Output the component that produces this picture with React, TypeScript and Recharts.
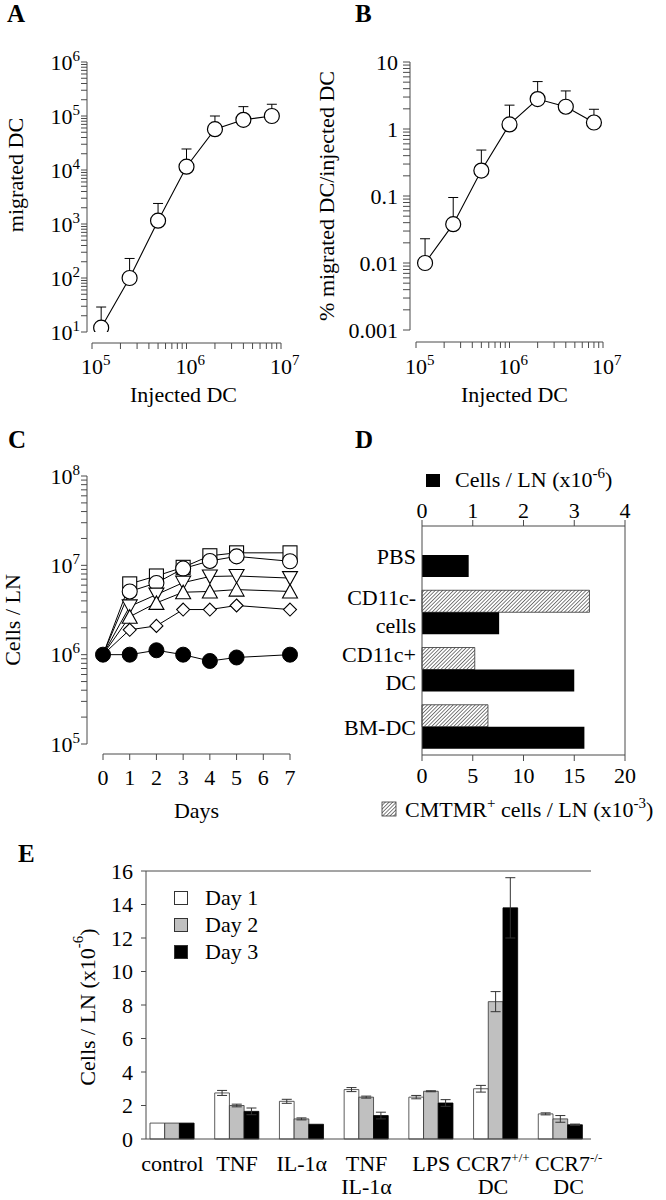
import React from "react";
import {
  LineChart,
  Line,
  BarChart,
  Bar,
  XAxis,
  YAxis,
  ErrorBar,
  Legend,
  ReferenceLine,
} from "recharts";

const FONT = '"Liberation Serif", "Times New Roman", Times, serif';
const AXIS = "#4a4a4a";
const FS = 22;
const SUP = 15;

// ---------- Panel A / B ----------
const injectedDC = [1.25e5, 2.5e5, 5e5, 1e6, 2e6, 4e6, 8e6];
const migratedDC = [12, 100, 1150, 11500, 57000, 85000, 100000];
const migratedDCErr = [17, 130, 1250, 13000, 43000, 64000, 65000];
const percentMigrated = [0.01, 0.038, 0.24, 1.17, 2.8, 2.15, 1.25];
const percentMigratedErr = [0.013, 0.057, 0.245, 1.1, 2.3, 1.55, 0.72];

const injectedDecades = [1e5, 1e6, 1e7];
const migratedDecades = [1e1, 1e2, 1e3, 1e4, 1e5, 1e6];
const percentDecades = [0.001, 0.01, 0.1, 1, 10];

// ---------- Panel C ----------
const days = [0, 1, 2, 3, 4, 5, 7];
const dayTicks = [0, 1, 2, 3, 4, 5, 6, 7];
const cellsDecades = [1e5, 1e6, 1e7, 1e8];
const cSquare = [1e6, 6.2e6, 7.6e6, 9.5e6, 1.28e7, 1.38e7, 1.38e7];
const cCircle = [1e6, 5.1e6, 6.35e6, 9.2e6, 1.12e7, 1.26e7, 1.11e7];
const cDown = [1e6, 3.47e6, 4.7e6, 6.4e6, 7.5e6, 7.6e6, 7.2e6];
const cUp = [1e6, 2.66e6, 3.8e6, 5.0e6, 5.1e6, 5.35e6, 5.1e6];
const cDiamond = [1e6, 1.9e6, 2.1e6, 3.2e6, 3.2e6, 3.55e6, 3.2e6];
const cFilled = [1e6, 1e6, 1.12e6, 1e6, 0.85e6, 0.93e6, 1e6];

// ---------- Panel D ----------
const dCategories = ["PBS", "CD11c- cells", "CD11c+ DC", "BM-DC"];
const dLabelLines = [["PBS"], ["CD11c-", "cells"], ["CD11c+", "DC"], ["BM-DC"]];
const dCells = [0.92, 1.52, 3.0, 3.2]; // x10^-6
const dCmtmr = [null, 16.5, 5.2, 6.5]; // x10^-3
const dCellsTicks = [0, 1, 2, 3, 4];
const dCmtmrTicks = [0, 5, 10, 15, 20];

// ---------- Panel E ----------
const eCategories = ["control", "TNF", "IL-1α", "TNF IL-1α", "LPS", "CCR7+/+ DC", "CCR7-/- DC"];
const eLabelLines = [["control"], ["TNF"], ["IL-1α"], ["TNF", "IL-1α"], ["LPS"], ["CCR7^+/+", "DC"], ["CCR7^-/-", "DC"]];
const eLabelShift = [0, 0, 0, 0, 0, -3, 8];
const eDay1 = [0.95, 2.75, 2.25, 2.95, 2.5, 3.0, 1.5];
const eDay1Err = [0, 0.15, 0.12, 0.12, 0.1, 0.2, 0.06];
const eDay2 = [0.95, 2.0, 1.2, 2.5, 2.85, 8.2, 1.2];
const eDay2Err = [0, 0.08, 0.06, 0.06, 0.03, 0.6, 0.2];
const eDay3 = [0.95, 1.65, 0.88, 1.4, 2.15, 13.8, 0.85];
const eDay3Err = [0, 0.2, 0, 0.2, 0.2, 1.8, 0.04];
const eTicks = [0, 2, 4, 6, 8, 10, 12, 14, 16];

// ---------- helpers ----------
function withMinor(decades: number[]) {
  const out: number[] = [];
  for (let i = 0; i < decades.length; i++) {
    out.push(decades[i]);
    if (i < decades.length - 1) for (let m = 2; m <= 9; m++) out.push(decades[i] * m);
  }
  return out;
}
function isDecade(v: number) {
  const l = Math.log10(v);
  return Math.abs(l - Math.round(l)) < 1e-6;
}

const aData = injectedDC.map((x, i) => ({ x, y: migratedDC[i], err: [0, migratedDCErr[i]] }));
const bData = injectedDC.map((x, i) => ({ x, y: percentMigrated[i], err: [0, percentMigratedErr[i]] }));
const cData = days.map((d, i) => ({
  day: d,
  sq: cSquare[i],
  ci: cCircle[i],
  dn: cDown[i],
  up: cUp[i],
  di: cDiamond[i],
  fi: cFilled[i],
}));
const dData = dCategories.map((c, i) => ({ cat: c, cells: dCells[i], cmtmr: dCmtmr[i] }));
const eData = eCategories.map((c, i) => ({
  cat: c,
  d1: eDay1[i],
  e1: eDay1Err[i],
  d2: eDay2[i],
  e2: eDay2Err[i],
  d3: eDay3[i],
  e3: eDay3Err[i],
}));

const txt = { fontFamily: FONT, fontSize: FS, fill: "#000" };

function renderSup(s: string, supSize = SUP) {
  const parts = s.split("^");
  if (parts.length === 1) return s;
  return [
    parts[0],
    <tspan key="s" dy={-9} fontSize={supSize}>
      {parts[1]}
    </tspan>,
  ];
}

const LogYTick = (props: any) => {
  const { x, y, payload, plain } = props;
  const v = payload && payload.value;
  if (v == null || !isDecade(v)) return <g />;
  if (plain)
    return (
      <text x={x} y={y} dy={7.5} textAnchor="end" {...txt}>
        {String(v)}
      </text>
    );
  const e = Math.round(Math.log10(v));
  return (
    <text x={x} y={y} dy={7.5} textAnchor="end" {...txt}>
      10
      <tspan dy={-9} fontSize={SUP}>
        {e}
      </tspan>
    </text>
  );
};

const LogXTick = (props: any) => {
  const { x, y, payload, k } = props;
  const v = payload && payload.value;
  if (v == null || !isDecade(v)) return <g />;
  const e = Math.round(Math.log10(v));
  return (
    <g>
      <text x={x} y={y + k} textAnchor="middle" {...txt}>
        10
      </text>
      <text x={x + 11} y={y + k - 9} textAnchor="start" fontFamily={FONT} fontSize={SUP} fill="#000">
        {e}
      </text>
    </g>
  );
};

const xTitle = (content: any, offset: number, dx = 0) => (p: any) => {
  const vb = p.viewBox || { x: 0, y: 0, width: 0, height: 0 };
  return (
    <text x={vb.x + vb.width / 2 + dx} y={vb.y + offset} textAnchor="middle" {...txt}>
      {content}
    </text>
  );
};

const yTitle = (content: any, dx: number, dy: number) => (p: any) => {
  const vb = p.viewBox || { x: 0, y: 0, width: 0, height: 0 };
  const cx = vb.x + dx;
  const cy = vb.y + vb.height / 2 + dy;
  return (
    <text
      x={cx}
      y={cy}
      transform={`rotate(-90 ${cx} ${cy})`}
      textAnchor="middle"
      dominantBaseline="central"
      {...txt}
    >
      {content}
    </text>
  );
};

const openCircle = (p: any) => {
  const k = `oc-${p.index}`;
  if (p.cx == null || p.cy == null) return <g key={k} />;
  return <circle key={k} cx={p.cx} cy={p.cy} r={7.5} fill="#fff" stroke="#000" strokeWidth={1.2} />;
};

function marker(shape: string, skipFirst: boolean) {
  return (p: any) => {
    const { cx, cy, index } = p;
    const k = `m-${shape}-${index}`;
    if (cx == null || cy == null || (skipFirst && index === 0)) return <g key={k} />;
    const common = { fill: "#fff", stroke: "#000", strokeWidth: 1.1 };
    switch (shape) {
      case "square":
        return <rect key={k} x={cx - 7} y={cy - 7} width={14} height={14} {...common} />;
      case "circle":
        return <circle key={k} cx={cx} cy={cy} r={7.5} {...common} />;
      case "down":
        return <polygon key={k} points={`${cx - 7.5},${cy - 6.5} ${cx + 7.5},${cy - 6.5} ${cx},${cy + 7}`} {...common} />;
      case "up":
        return <polygon key={k} points={`${cx - 7.5},${cy + 6.5} ${cx + 7.5},${cy + 6.5} ${cx},${cy - 7}`} {...common} />;
      case "diamond":
        return <polygon key={k} points={`${cx},${cy - 6.5} ${cx + 6.5},${cy} ${cx},${cy + 6.5} ${cx - 6.5},${cy}`} {...common} />;
      case "filled":
        return <circle key={k} cx={cx} cy={cy} r={7.5} fill="#000" stroke="#000" />;
      default:
        return <g key={k} />;
    }
  };
}

const gapX = (id: string, h: number) => (
  <XAxis xAxisId={id} type="number" domain={[0, 1]} height={h} tick={false} tickLine={false} axisLine={false} />
);
const gapY = (id: string, w: number) => (
  <YAxis yAxisId={id} type="number" domain={[0, 1]} width={w} tick={false} tickLine={false} axisLine={false} />
);

function PanelA() {
  return (
    <LineChart width={333} height={420} data={aData} margin={{ top: 62, right: 52, bottom: 0, left: 0 }}>
      {gapX("gap", 11)}
      <XAxis
        xAxisId="main"
        dataKey="x"
        type="number"
        scale="log"
        domain={[1e5, 1e7]}
        allowDataOverflow
        ticks={withMinor(injectedDecades)}
        interval={0}
        height={77}
        tickSize={6}
        tickMargin={0}
        axisLine={{ stroke: AXIS }}
        tickLine={{ stroke: AXIS }}
        tick={(p: any) => <LogXTick {...p} k={25} />}
        label={{ content: xTitle("Injected DC", 59, -3) }}
      />
      {gapY("gap", 5)}
      <YAxis
        yAxisId="main"
        type="number"
        scale="log"
        domain={[10, 1e6]}
        allowDataOverflow
        ticks={withMinor(migratedDecades)}
        interval={0}
        width={87}
        tickSize={6}
        tickMargin={1}
        axisLine={{ stroke: AXIS }}
        tickLine={{ stroke: AXIS }}
        tick={(p: any) => <LogYTick {...p} />}
        label={{ content: yTitle("migrated DC", 15, -22) }}
      />
      <Line xAxisId="main" yAxisId="main" dataKey="y" stroke="#000" strokeWidth={1.1} dot={false} activeDot={false} isAnimationActive={false}>
        <ErrorBar dataKey="err" direction="y" width={5} stroke="#000" strokeWidth={1} />
      </Line>
      <Line xAxisId="main" yAxisId="main" dataKey="y" stroke="none" dot={openCircle} activeDot={false} isAnimationActive={false} />
    </LineChart>
  );
}

function PanelB() {
  return (
    <LineChart width={361} height={420} data={bData} margin={{ top: 62, right: 63, bottom: 0, left: 0 }}>
      {gapX("gap", 12)}
      <XAxis
        xAxisId="main"
        dataKey="x"
        type="number"
        scale="log"
        domain={[1e5, 1e7]}
        allowDataOverflow
        ticks={withMinor(injectedDecades)}
        interval={0}
        height={78}
        tickSize={6}
        tickMargin={0}
        axisLine={{ stroke: AXIS }}
        tickLine={{ stroke: AXIS }}
        tick={(p: any) => <LogXTick {...p} k={26} />}
        label={{ content: xTitle("Injected DC", 60, 5) }}
      />
      {gapY("gap", 6)}
      <YAxis
        yAxisId="main"
        type="number"
        scale="log"
        domain={[0.001, 10]}
        allowDataOverflow
        ticks={withMinor(percentDecades)}
        interval={0}
        width={105}
        tickSize={7}
        tickMargin={5}
        axisLine={{ stroke: AXIS }}
        tickLine={{ stroke: AXIS }}
        tick={(p: any) => <LogYTick {...p} plain />}
        label={{ content: yTitle("% migrated DC/injected DC", 21, 0) }}
      />
      <Line xAxisId="main" yAxisId="main" dataKey="y" stroke="#000" strokeWidth={1.1} dot={false} activeDot={false} isAnimationActive={false}>
        <ErrorBar dataKey="err" direction="y" width={5} stroke="#000" strokeWidth={1} />
      </Line>
      <Line xAxisId="main" yAxisId="main" dataKey="y" stroke="none" dot={openCircle} activeDot={false} isAnimationActive={false} />
    </LineChart>
  );
}

function PanelC() {
  const series: [string, string, boolean][] = [
    ["sq", "square", true],
    ["ci", "circle", true],
    ["dn", "down", true],
    ["up", "up", true],
    ["di", "diamond", true],
    ["fi", "filled", false],
  ];
  return (
    <LineChart width={333} height={420} data={cData} margin={{ top: 56, right: 43, bottom: 0, left: 0 }}>
      {gapX("gap", 10)}
      <XAxis
        xAxisId="main"
        dataKey="day"
        type="number"
        domain={[0, 7]}
        ticks={dayTicks}
        interval={0}
        height={86}
        tickSize={6}
        tickMargin={9}
        axisLine={{ stroke: AXIS }}
        tickLine={{ stroke: AXIS }}
        tick={{ fontFamily: FONT, fontSize: FS, fill: "#000" }}
        label={{ content: xTitle("Days", 64) }}
      />
      {gapY("gap", 16)}
      <YAxis
        yAxisId="main"
        type="number"
        scale="log"
        domain={[1e5, 1e8]}
        allowDataOverflow
        ticks={withMinor(cellsDecades)}
        interval={0}
        width={87}
        tickSize={6}
        tickMargin={1}
        axisLine={{ stroke: AXIS }}
        tickLine={{ stroke: AXIS }}
        tick={(p: any) => <LogYTick {...p} />}
        label={{ content: yTitle("Cells / LN", 12, 10) }}
      />
      {series.map(([key, shape, skip]) => (
        <Line
          key={key}
          xAxisId="main"
          yAxisId="main"
          dataKey={key}
          stroke="#000"
          strokeWidth={1}
          dot={marker(shape, skip)}
          activeDot={false}
          isAnimationActive={false}
        />
      ))}
    </LineChart>
  );
}

const DTick = (p: any) => {
  const { x, y, payload } = p;
  const idx = dCategories.indexOf(payload && payload.value);
  const lines = idx >= 0 ? dLabelLines[idx] : [String(payload && payload.value)];
  if (lines.length === 1)
    return (
      <text x={x} y={y + 9} textAnchor="end" {...txt}>
        {lines[0]}
      </text>
    );
  return (
    <g>
      <text x={x} y={y - 7} textAnchor="end" {...txt}>
        {lines[0]}
      </text>
      <text x={x} y={y + 21} textAnchor="end" {...txt}>
        {lines[1]}
      </text>
    </g>
  );
};

const dTopLegend = (p: any) => {
  const vb = p.viewBox || { x: 89, y: 46, width: 203, height: 60 };
  const base = vb.y + 21;
  return (
    <g>
      <rect x={vb.x + 4} y={base - 13} width={14} height={13} fill="#000" />
      <text x={vb.x + 33} y={base} textAnchor="start" {...txt}>
        Cells / LN (x10
        <tspan dy={-9} fontSize={SUP}>
          -6
        </tspan>
        <tspan dy={9}>)</tspan>
      </text>
    </g>
  );
};

const dBottomLegend = (p: any) => {
  const vb = p.viewBox || { x: 89, y: 335, width: 203, height: 85 };
  const base = vb.y + 62;
  return (
    <g>
      <rect x={vb.x - 40} y={base - 15} width={14} height={14} fill="url(#hatchD)" stroke="#333" strokeWidth={0.8} />
      <text x={vb.x - 17} y={base} textAnchor="start" {...txt}>
        CMTMR
        <tspan dy={-9} fontSize={SUP}>
          +
        </tspan>
        <tspan dy={9}> cells / LN (x10</tspan>
        <tspan dy={-9} fontSize={SUP}>
          -3
        </tspan>
        <tspan dy={9}>)</tspan>
      </text>
    </g>
  );
};

function PanelD() {
  return (
    <BarChart
      layout="vertical"
      width={333}
      height={420}
      data={dData}
      margin={{ top: 46, right: 41, bottom: 0, left: 0 }}
      barSize={22}
      barGap={0}
    >
      <defs>
        <pattern id="hatchD" patternUnits="userSpaceOnUse" width={2.6} height={2.6} patternTransform="rotate(45)">
          <rect width={2.6} height={2.6} fill="#fff" />
          <line x1={0} y1={0} x2={0} y2={2.6} stroke="#3a3a3a" strokeWidth={1.3} />
        </pattern>
      </defs>
      <XAxis
        xAxisId="cells"
        orientation="top"
        type="number"
        domain={[0, 4]}
        ticks={dCellsTicks}
        interval={0}
        height={60}
        tickSize={6}
        tickMargin={2}
        axisLine={{ stroke: AXIS }}
        tickLine={{ stroke: AXIS }}
        tick={{ fontFamily: FONT, fontSize: FS, fill: "#000" }}
        label={{ content: dTopLegend }}
      />
      <XAxis
        xAxisId="cmtmr"
        orientation="bottom"
        type="number"
        domain={[0, 20]}
        ticks={dCmtmrTicks}
        interval={0}
        height={85}
        tickSize={6}
        tickMargin={6}
        axisLine={{ stroke: AXIS }}
        tickLine={{ stroke: AXIS }}
        tick={{ fontFamily: FONT, fontSize: FS, fill: "#000" }}
        label={{ content: dBottomLegend }}
      />
      <YAxis
        type="category"
        dataKey="cat"
        width={89}
        tickLine={false}
        tickSize={0}
        tickMargin={6}
        axisLine={{ stroke: AXIS }}
        tick={DTick}
        interval={0}
      />
      <ReferenceLine xAxisId="cells" x={4} stroke={AXIS} />
      <Bar xAxisId="cmtmr" dataKey="cmtmr" fill="url(#hatchD)" stroke="#333" strokeWidth={0.8} isAnimationActive={false} />
      <Bar xAxisId="cells" dataKey="cells" fill="#000" isAnimationActive={false} />
    </BarChart>
  );
}

const ETick = (p: any) => {
  const { x, y, payload } = p;
  const idx = eCategories.indexOf(payload && payload.value);
  const lines = idx >= 0 ? eLabelLines[idx] : [String(payload && payload.value)];
  const shift = idx >= 0 ? eLabelShift[idx] : 0;
  return (
    <g>
      {lines.map((ln, i) => (
        <text key={i} x={x + shift} y={y + 32 + i * 23} textAnchor="middle" {...txt}>
          {renderSup(ln, 13)}
        </text>
      ))}
    </g>
  );
};

const eLegend = (props: any) => {
  const payload = (props && props.payload) || [];
  return (
    <div style={{ fontFamily: FONT, fontSize: FS, color: "#000" }}>
      {payload.map((item: any, i: number) => (
        <div key={i} style={{ display: "flex", alignItems: "center", height: 26.7, whiteSpace: "nowrap" }}>
          <span
            style={{
              display: "inline-block",
              width: 12,
              height: 12,
              background: item.color,
              border: "1px solid #333",
              marginRight: 17,
            }}
          />
          <span>{item.value}</span>
        </div>
      ))}
    </div>
  );
};

function PanelE() {
  return (
    <BarChart
      width={666}
      height={360}
      data={eData}
      margin={{ top: 31, right: 75, bottom: 0, left: 0 }}
      barSize={14.7}
      barGap={0}
    >
      <XAxis
        dataKey="cat"
        height={61}
        tickLine={false}
        tickSize={0}
        tickMargin={0}
        axisLine={{ stroke: AXIS }}
        tick={ETick}
        interval={0}
        padding={{ left: -6, right: -2 }}
      />
      <YAxis
        type="number"
        domain={[0, 16]}
        ticks={eTicks}
        interval={0}
        width={146}
        tickSize={5}
        tickMargin={8}
        axisLine={{ stroke: AXIS }}
        tickLine={{ stroke: AXIS }}
        tick={{ fontFamily: FONT, fontSize: FS, fill: "#000" }}
        label={{
          content: yTitle(
            [
              "Cells / LN (x10",
              <tspan key="a" dy={-9} fontSize={SUP}>
                -6
              </tspan>,
              <tspan key="b" dy={9}>
                )
              </tspan>,
            ],
            87,
            2
          ),
        }}
      />
      <YAxis yAxisId="frame" orientation="right" type="number" domain={[0, 16]} width={0} tick={false} tickLine={false} axisLine={{ stroke: AXIS }} />
      <ReferenceLine y={16} stroke={AXIS} />
      <Legend
        layout="vertical"
        align="center"
        verticalAlign="middle"
        wrapperStyle={{ left: 174, top: 45, width: "auto" }}
        content={eLegend}
      />
      <Bar dataKey="d1" name="Day 1" fill="#ffffff" stroke="#333" strokeWidth={0.8} isAnimationActive={false}>
        <ErrorBar dataKey="e1" width={5} stroke="#333" strokeWidth={1} />
      </Bar>
      <Bar dataKey="d2" name="Day 2" fill="#c0c0c0" stroke="#333" strokeWidth={0.8} isAnimationActive={false}>
        <ErrorBar dataKey="e2" width={5} stroke="#333" strokeWidth={1} />
      </Bar>
      <Bar dataKey="d3" name="Day 3" fill="#000000" stroke="#000" strokeWidth={0.8} isAnimationActive={false}>
        <ErrorBar dataKey="e3" width={5} stroke="#333" strokeWidth={1} />
      </Bar>
    </BarChart>
  );
}

const letterStyle = (left: number, top: number): React.CSSProperties => ({
  position: "absolute",
  left,
  top,
  fontFamily: FONT,
  fontWeight: "bold",
  fontSize: 25,
  lineHeight: "25px",
  color: "#000",
});

const box = (left: number, top: number): React.CSSProperties => ({ position: "absolute", left, top });

export default function App() {
  return (
    <div style={{ position: "absolute", left: 0, top: 0, width: 666, height: 1200, background: "#fff", overflow: "hidden" }}>
      <div style={box(0, 0)}>
        <PanelA />
      </div>
      <div style={box(305, 0)}>
        <PanelB />
      </div>
      <div style={box(0, 420)}>
        <PanelC />
      </div>
      <div style={box(333, 420)}>
        <PanelD />
      </div>
      <div style={box(0, 840)}>
        <PanelE />
      </div>
      <div style={letterStyle(7, 1)}>A</div>
      <div style={letterStyle(355, 1)}>B</div>
      <div style={letterStyle(8, 427)}>C</div>
      <div style={letterStyle(355, 427)}>D</div>
      <div style={letterStyle(18, 841)}>E</div>
    </div>
  );
}
